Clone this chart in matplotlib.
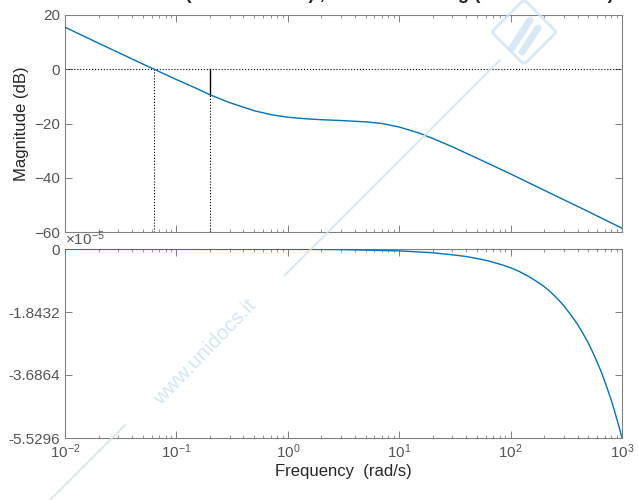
import numpy as np
import matplotlib.pyplot as plt
from matplotlib.patches import FancyBboxPatch
import matplotlib.transforms as mtransforms

plt.rcParams['font.family'] = ['Liberation Sans', 'DejaVu Sans']
plt.rcParams['mathtext.fontset'] = 'custom'
plt.rcParams['mathtext.rm'] = 'Liberation Sans'
plt.rcParams['mathtext.it'] = 'Liberation Sans'

# magnitude response (rad/s, dB)
w_mag = [0.01, 0.02, 0.03, 0.05, 0.0631, 0.1, 0.15, 0.2, 0.3, 0.5, 0.7, 1, 1.5, 2,
         3, 5, 7, 10, 15, 20, 30, 50, 70, 100, 200, 500, 1000]
mag_db = [15.5, 9.6, 6.2, 1.9, 0.0, -3.8, -7.0, -9.4, -12.3, -15.3, -16.7, -17.7,
          -18.3, -18.6, -18.9, -19.4, -20.0, -21.3, -23.5, -25.5, -28.6, -32.8,
          -35.6, -38.6, -44.6, -52.5, -58.6]

# phase (units of 1e-5 deg)
w_ph = [0.01, 0.1, 1, 3, 10, 20, 30, 40, 50, 60, 70, 85, 100, 120, 150, 175, 200,
        225, 250, 275, 300, 350, 400, 450, 500, 550, 600, 650, 700, 750, 800, 850,
        900, 950, 1000]
phase_e5 = [0.0, 0.0, -0.005, -0.017, -0.055, -0.11, -0.17, -0.22, -0.28, -0.33,
            -0.39, -0.47, -0.55, -0.66, -0.83, -0.97, -1.1, -1.24, -1.38, -1.52,
            -1.66, -1.94, -2.21, -2.49, -2.76, -3.04, -3.32, -3.59, -3.87, -4.15,
            -4.42, -4.70, -4.98, -5.25, -5.5296]

# margins
w_pm = 0.0631
w_gm = 0.2
gm_db = -9.4
title_txt = 'Gm = 9.5 dB (at 0.199 rad/s) ,     Pm = 180 deg (at 0.0631 rad/s)'

phase_ticks = [0, -1.8432, -3.6864, -5.5296]
phase_labels = ['0', '-1.8432', '-3.6864', '-5.5296']
x_ticks = [1e-2, 1e-1, 1e0, 1e1, 1e2, 1e3]
x_labels = ['$10^{-2}$', '$10^{-1}$', '$10^{0}$', '$10^{1}$', '$10^{2}$', '$10^{3}$']

blue = '#0072BD'
tick_gray = '#555555'
spine_gray = '#808080'

fig = plt.figure(figsize=(6.38, 5), dpi=100)
ax1 = fig.add_axes([0.1019, 0.536, 0.8730, 0.434])
ax2 = fig.add_axes([0.1019, 0.124, 0.8730, 0.378])

for ax in (ax1, ax2):
    ax.set_xscale('log')
    ax.set_xlim(1e-2, 1e3)
    ax.tick_params(which='both', direction='in', top=True, right=True,
                   colors=spine_gray, labelcolor=tick_gray, labelsize=11)
    ax.tick_params(which='major', length=5, width=0.7)
    ax.tick_params(which='minor', length=2.5, width=0.6)
    for s in ax.spines.values():
        s.set_color(spine_gray)
        s.set_linewidth(0.8)
    ax.set_xticks(x_ticks)

# magnitude
ax1.plot(w_mag, mag_db, color=blue, lw=1.0, zorder=3)
ax1.set_ylim(-60, 20)
ax1.set_yticks([20, 0, -20, -40, -60])
ax1.set_xticklabels([])
ax1.axhline(0, color='k', ls=':', lw=0.8)
ax1.plot([w_pm, w_pm], [-60, 0], color='k', ls=':', lw=0.8)
ax1.plot([w_gm, w_gm], [-60, gm_db], color='k', ls=':', lw=0.8)
ax1.plot([w_gm, w_gm], [gm_db, 0], color='k', lw=1.0)
ax1.set_ylabel('Magnitude (dB)', fontsize=12, color='#262626', labelpad=4)

# phase
ax2.plot(w_ph, phase_e5, color=blue, lw=1.0, zorder=3)
ax2.set_ylim(-5.5296, 0.0)
ax2.set_yticks(phase_ticks)
ax2.set_yticklabels(phase_labels)
ax2.set_xticklabels(x_labels)
ax2.axhline(0, color='k', ls=':', lw=0.8)
ax2.text(0.0, 1.005, r'$\times10^{-5}$', transform=ax2.transAxes, fontsize=11,
         color=tick_gray, ha='left', va='bottom')
ax2.set_xlabel('Frequency  (rad/s)', fontsize=12, color='#262626', labelpad=2)

# title, cut off at the top edge like the reference (only descenders show)
fig.text(73 / 638, 1 + 1 / 500, title_txt, fontsize=13.3, fontweight='bold',
         ha='left', va='baseline', color='#262626')

# faint watermark
wm = '#cfe3f3'
fig.add_artist(plt.Line2D([285 / 638, 500 / 638], [1 - 275 / 500, 1 - 60 / 500],
                          color=wm, lw=1.5, alpha=0.8))
fig.add_artist(plt.Line2D([50 / 638, 125 / 638], [1 - 500 / 500, 1 - 425 / 500],
                          color=wm, lw=1.5, alpha=0.8))
fig.text(205 / 638, 1 - 352 / 500, 'www.unidocs.it', rotation=46, fontsize=15,
         color=wm, ha='center', va='center', alpha=0.9)
box = FancyBboxPatch((-20, -20), 40, 40, boxstyle='round,pad=3', fc='none',
                     ec=wm, lw=2.0, alpha=0.8,
                     transform=mtransforms.Affine2D().rotate_deg(45).translate(524, 500 - 32))
fig.add_artist(box)
fig.add_artist(plt.Line2D([512 / 638, 530 / 638], [1 - 48 / 500, 1 - 20 / 500],
                          color=wm, lw=5, alpha=0.8, solid_capstyle='round'))
fig.add_artist(plt.Line2D([522 / 638, 538 / 638], [1 - 52 / 500, 1 - 28 / 500],
                          color=wm, lw=5, alpha=0.8, solid_capstyle='round'))

fig.savefig('out.png', dpi=100)
